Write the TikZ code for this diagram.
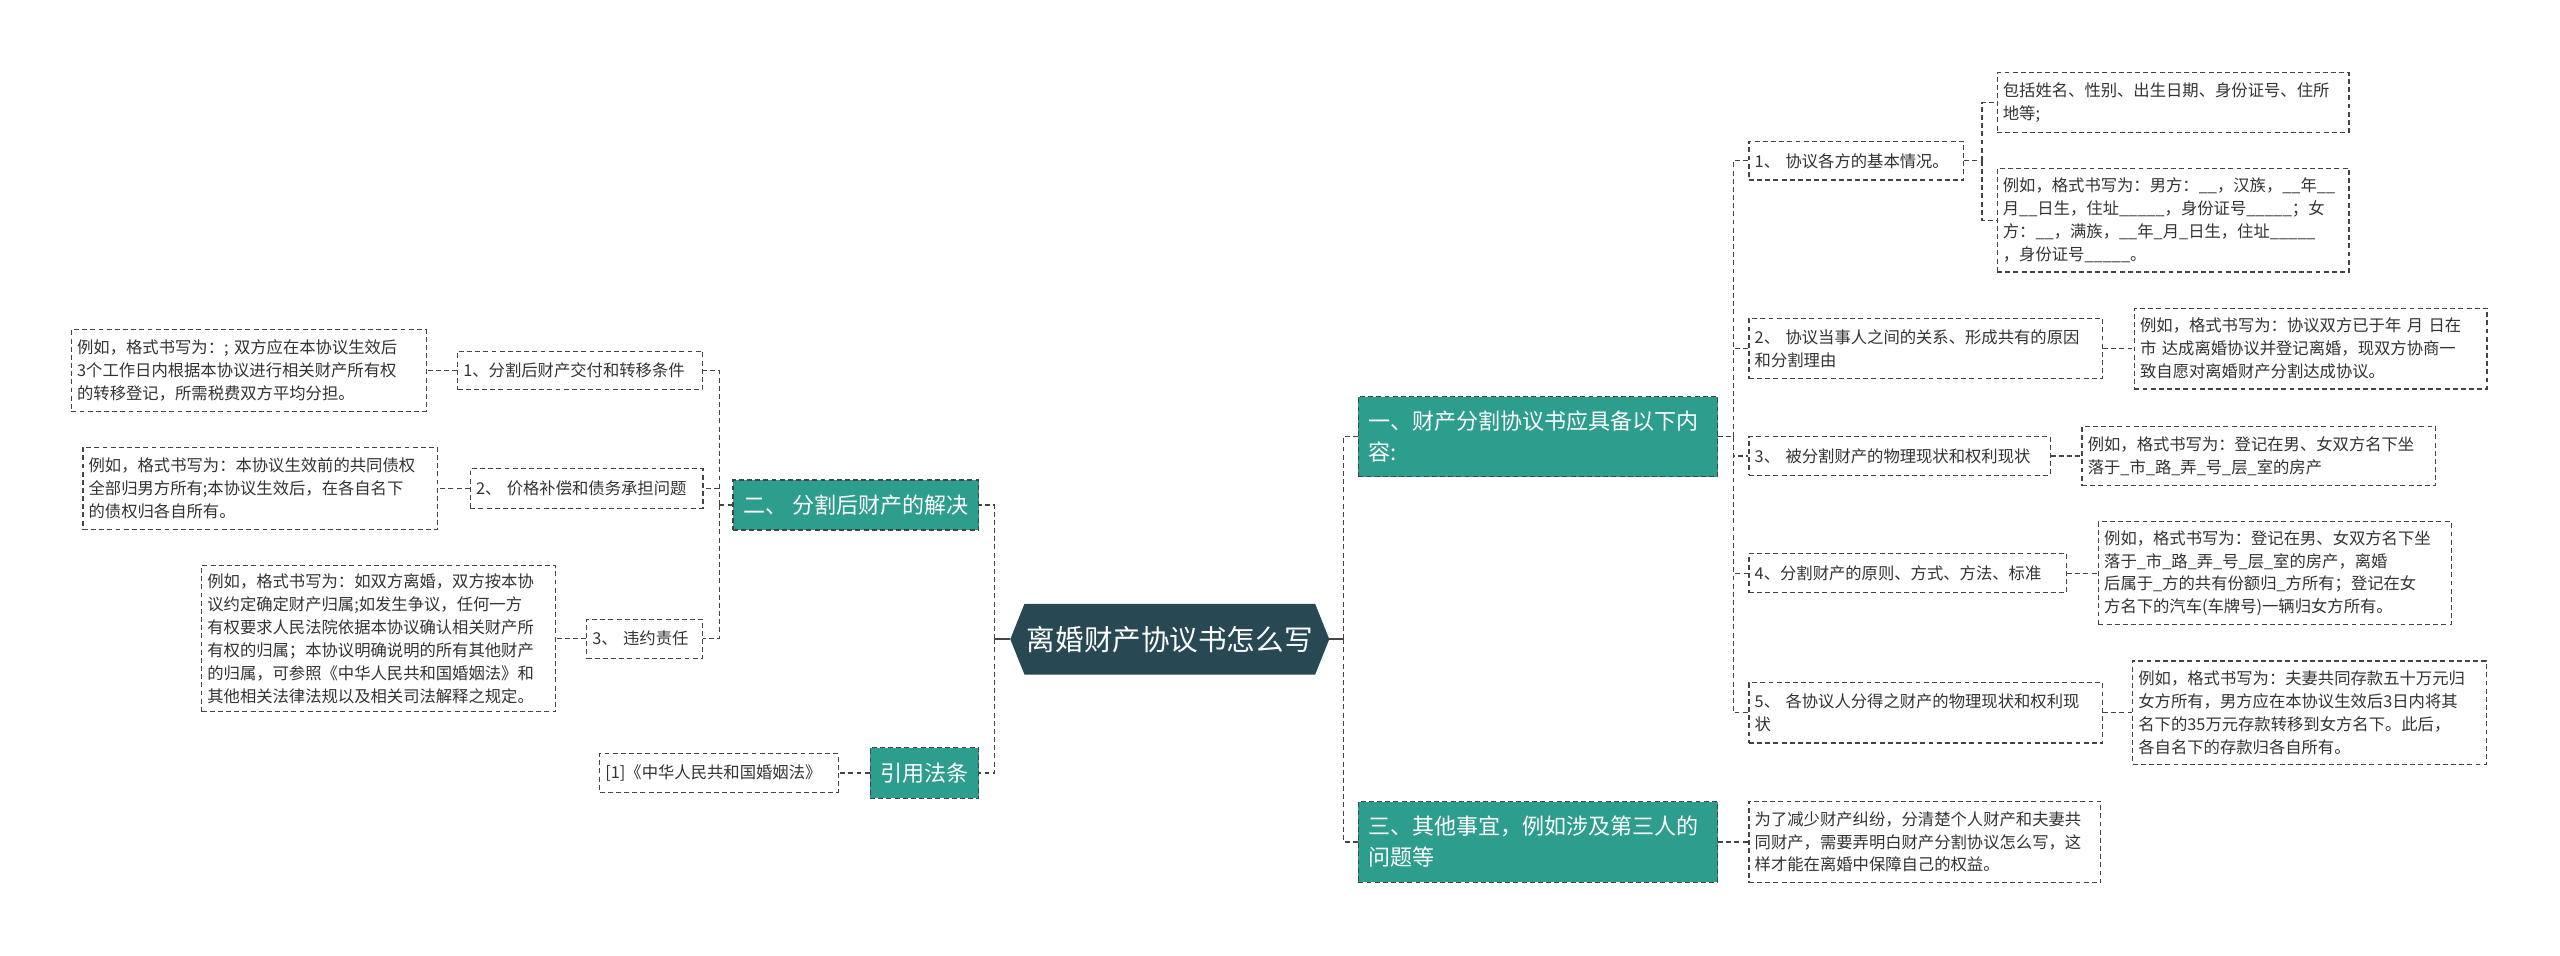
\documentclass[tikz,border=0pt]{standalone}
\usepackage{fontspec}
\newfontfamily\cjk{Noto Sans CJK SC}
\usetikzlibrary{backgrounds}
\definecolor{teal0}{HTML}{2D9D8D}
\definecolor{dark0}{HTML}{284854}
\definecolor{linec}{HTML}{444444}
\definecolor{txt}{HTML}{333333}
\tikzset{
 conn/.style={draw=linec, line width=0.7pt, dash pattern=on 3pt off 2pt},
 stub/.style={draw=linec, line width=1pt},
 sub/.style={draw=linec, line width=0.7pt, dash pattern=on 3pt off 2pt, fill=white, text=txt,
   font=\cjk\fontsize{10}{14}\selectfont, align=left, inner xsep=3.5pt, inner ysep=3pt},
 topic/.style={draw=linec, line width=0.7pt, dash pattern=on 3pt off 2pt, fill=teal0, text=white,
   font=\cjk\fontsize{13.5}{19}\selectfont, align=left, inner xsep=6pt, inner ysep=3pt},
 topicone/.style={draw=linec, line width=0.7pt, dash pattern=on 3pt off 2pt, fill=teal0, text=white,
   font=\cjk\fontsize{13.5}{19}\selectfont, inner sep=0pt},
 rootnode/.style={text=white, font=\cjk\fontsize{17.5}{20}\selectfont, inner sep=0pt,
   minimum width=195pt, minimum height=43pt},
}
\begin{document}
\begin{tikzpicture}[x=1pt,y=1pt]
\useasboundingbox (0,0) rectangle (1568,-585);

% root
\node[rootnode] (c) at (716.5,-391.5) {离婚财产协议书怎么写};
\begin{scope}[on background layer]
\fill[white] (0,0) rectangle (1568,-585);
\fill[dark0] (c.west) -- ([xshift=8.7pt]c.north west) -- ([xshift=-8.7pt]c.north east) -- (c.east)
  -- ([xshift=-8.7pt]c.south east) -- ([xshift=8.7pt]c.south west) -- cycle;
\end{scope}

% right main topics
\node[topic, text width=208pt, minimum height=49pt] (R1) at (942,-267.5) {一、财产分割协议书应具备以下内\\容:};
\node[topic, text width=208pt, minimum height=49.5pt] (R3) at (942,-515.7) {三、其他事宜，例如涉及第三人的\\问题等};

% left main topics
\node[topicone, minimum width=150.5pt, minimum height=30.6pt] (N2) at (524.2,-309.3) {二、 分割后财产的解决};
\node[topicone, minimum width=66.5pt, minimum height=31pt] (LAW) at (566.2,-473.5) {引用法条};

% left sub nodes
\node[sub, text width=143.2pt, minimum height=23.4pt] (L1) at (355.4,-227) {1、分割后财产交付和转移条件};
\node[sub, text width=210.3pt, minimum height=50pt] (L1e) at (152.4,-227) {例如，格式书写为：; 双方应在本协议生效后\\3个工作日内根据本协议进行相关财产所有权\\的转移登记，所需税费双方平均分担。};
\node[sub, text width=135.5pt, minimum height=24pt] (L2) at (359.3,-299.2) {2、 价格补偿和债务承担问题};
\node[sub, text width=210.2pt, minimum height=50.6pt] (L2e) at (159.4,-299.2) {例如，格式书写为：本协议生效前的共同债权\\全部归男方所有;本协议生效后，在各自名下\\的债权归各自所有。};
\node[sub, text width=64.2pt, minimum height=24pt] (L3) at (394.9,-391.2) {3、 违约责任};
\node[sub, text width=210pt, minimum height=89.5pt] (L3e) at (232,-391.2) {例如，格式书写为：如双方离婚，双方按本协\\议约定确定财产归属;如发生争议，任何一方\\有权要求人民法院依据本协议确认相关财产所\\有权的归属；本协议明确说明的所有其他财产\\的归属，可参照《中华人民共和国婚姻法》和\\其他相关法律法规以及相关司法解释之规定。};
\node[sub, text width=139.2pt, minimum height=23.6pt] (LAWa) at (440.4,-473.5) {[1]《中华人民共和国婚姻法》};

% right sub nodes
\node[sub, text width=124.5pt, minimum height=23.5pt] (a1) at (1137,-98.5) {1、 协议各方的基本情况。};
\node[sub, text width=208.5pt, minimum height=36.5pt] (a1a) at (1331,-62.7) {包括姓名、性别、出生日期、身份证号、住所\\地等;};
\node[sub, text width=208.5pt, minimum height=63.6pt] (a1b) at (1331,-134.8) {例如，格式书写为：男方：\_\_，汉族，\_\_年\_\_\\月\_\_日生，住址\_\_\_\_\_，身份证号\_\_\_\_\_；女\\方：\_\_，满族，\_\_年\_月\_日生，住址\_\_\_\_\_\\，身份证号\_\_\_\_\_。};
\node[sub, text width=209.5pt, minimum height=37pt] (a2) at (1179.5,-213.5) {2、 协议当事人之间的关系、形成共有的原因\\和分割理由};
\node[sub, text width=209pt, minimum height=49.5pt] (a2a) at (1415.3,-213.5) {例如，格式书写为：协议双方已于年 月 日在\\市 达成离婚协议并登记离婚，现双方协商一\\致自愿对离婚财产分割达成协议。};
\node[sub, text width=177.5pt, minimum height=23.5pt] (a3) at (1163.5,-279.3) {3、 被分割财产的物理现状和权利现状};
\node[sub, text width=209.5pt, minimum height=36.6pt] (a3a) at (1383.5,-279.3) {例如，格式书写为：登记在男、女双方名下坐\\落于\_市\_路\_弄\_号\_层\_室的房产};
\node[sub, text width=187.5pt, minimum height=24pt] (a4) at (1168.5,-351.1) {4、分割财产的原则、方式、方法、标准};
\node[sub, text width=209pt, minimum height=63pt] (a4a) at (1393.3,-351.1) {例如，格式书写为：登记在男、女双方名下坐\\落于\_市\_路\_弄\_号\_层\_室的房产，离婚\\后属于\_方的共有份额归\_方所有；登记在女\\方名下的汽车(车牌号)一辆归女方所有。};
\node[sub, text width=209.5pt, minimum height=37pt] (a5) at (1179.5,-436.6) {5、 各协议人分得之财产的物理现状和权利现\\状};
\node[sub, text width=209.5pt, minimum height=63.5pt] (a5a) at (1414.5,-436.6) {例如，格式书写为：夫妻共同存款五十万元归\\女方所有，男方应在本协议生效后3日内将其\\名下的35万元存款转移到女方名下。此后，\\各自名下的存款归各自所有。};
\node[sub, text width=208.5pt, minimum height=50pt] (c3) at (1179,-515.7) {为了减少财产纠纷，分清楚个人财产和夫妻共\\同财产，需要弄明白财产分割协议怎么写，这\\样才能在离婚中保障自己的权益。};

% connectors: root
\coordinate (rs) at (823,-391.5);
\coordinate (ls) at (609,-391.5);
\draw[stub] (c.east) -- (rs);
\draw[stub] (c.west) -- (ls);
\draw[conn] (rs) |- (R1.west);
\draw[conn] (rs) |- (R3.west);
\draw[conn] (ls) |- (N2.east);
\draw[conn] (ls) |- (LAW.east);

% R1 children
\coordinate (r1s) at (1061.5,-267.5);
\draw[conn] (R1.east) -- (r1s);
\foreach \n in {a1,a2,a3,a4,a5} { \draw[conn] (r1s) |- (\n.west); }
\coordinate (a1s) at (1214,-98.5);
\draw[conn] (a1.east) -- (a1s);
\draw[conn] (a1s) |- (a1a.west);
\draw[conn] (a1s) |- (a1b.west);
\draw[conn] (a2.east) -- (a2a.west);
\draw[conn] (a3.east) -- (a3a.west);
\draw[conn] (a4.east) -- (a4a.west);
\draw[conn] (a5.east) -- (a5a.west);
\draw[conn] (R3.east) -- (c3.west);

% N2 children
\coordinate (n2s) at (440.5,-309.3);
\draw[conn] (N2.west) -- (n2s);
\foreach \n in {L1,L2,L3} { \draw[conn] (n2s) |- (\n.east); }
\draw[conn] (L1.west) -- (L1e.east);
\draw[conn] (L2.west) -- (L2e.east);
\draw[conn] (L3.west) -- (L3e.east);
\draw[conn] (LAW.west) -- (LAWa.east);
\end{tikzpicture}
\end{document}
